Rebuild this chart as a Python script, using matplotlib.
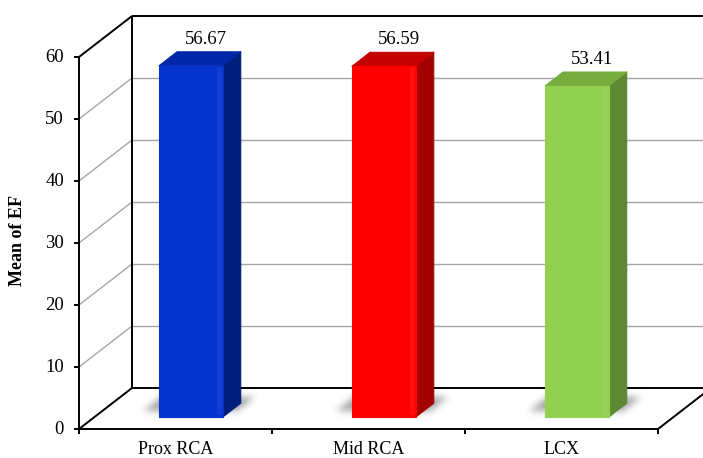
import matplotlib

matplotlib.use("Agg")

import matplotlib.pyplot as plt
import numpy as np
from matplotlib.patches import Polygon
from matplotlib.path import Path

# Dados do gráfico
categorias = ["Prox RCA", "Mid RCA", "LCX"]
medias_ef = [56.67, 56.59, 53.41]
rotulos_y = [0, 10, 20, 30, 40, 50, 60]

cores_frente = ["#0433CF", "#FF0000", "#92D050"]
cores_lado = ["#001E7C", "#A30000", "#5E8832"]
cores_topo = ["#0027A8", "#C40000", "#77AD3E"]

# Geometria da caixa 3D (em pixels da figura)
LARGURA, ALTURA = 703, 458
X0, Y0 = 79, 429
LARG_CAT = 193
PX_UNID = 6.2
PROF_DX, PROF_DY = 53, 41
Y_MAX = 60
BARRA_LARG = 0.33
BARRA_D0, BARRA_D1 = 0.29, 0.63

FONTE = "Liberation Serif"


def proj(x, v, d):
    # x em unidades de categoria, v no valor do eixo, d na profundidade (0 a 1)
    return (X0 + x * LARG_CAT + d * PROF_DX, Y0 - v * PX_UNID - d * PROF_DY)


def linha(ax, a, b, cor="black", lw=1.4, z=2):
    ax.plot([a[0], b[0]], [a[1], b[1]], color=cor, lw=lw, zorder=z,
            solid_capstyle="butt")


def _desfocar(mascara, sigma):
    raio = int(3 * sigma)
    t = np.arange(-raio, raio + 1)
    k = np.exp(-t ** 2 / (2 * sigma ** 2))
    k /= k.sum()
    saida = np.apply_along_axis(lambda r: np.convolve(r, k, mode="same"), 1, mascara)
    saida = np.apply_along_axis(lambda c: np.convolve(c, k, mode="same"), 0, saida)
    return saida


fig = plt.figure(figsize=(LARGURA / 100, ALTURA / 100), dpi=100)
ax = fig.add_axes([0, 0, 1, 1])
ax.axis("off")

n = len(categorias)

# linhas de grade na parede do fundo e na parede lateral
for v in rotulos_y[1:-1]:
    linha(ax, proj(0, v, 1), proj(n, v, 1), cor="#A6A6A6", lw=1.0, z=1)
    linha(ax, proj(0, v, 0), proj(0, v, 1), cor="#A6A6A6", lw=1.0, z=1)

# contorno da caixa
linha(ax, proj(0, Y_MAX, 1), proj(n, Y_MAX, 1))
linha(ax, proj(0, 0, 1), proj(0, Y_MAX, 1))
linha(ax, proj(0, 0, 1), proj(n, 0, 1))
linha(ax, proj(0, Y_MAX, 0), proj(0, Y_MAX, 1))
linha(ax, proj(0, 0, 0), proj(0, 0, 1))
linha(ax, proj(0, 0, 0), proj(0, Y_MAX, 0), z=5)
linha(ax, proj(0, 0, 0), proj(n, 0, 0), z=5)
linha(ax, proj(n, 0, 0), proj(n, 0, 1), z=5)

# marcas e rótulos do eixo y
for v in rotulos_y:
    px, py = proj(0, v, 0)
    linha(ax, (px - 5, py), (px, py), z=5)
    ax.text(px - 15, py, f"{v}", ha="right", va="center", fontsize=13.5,
            family=FONTE, color="black")

# marcas e rótulos das categorias
for i in range(n + 1):
    px, py = proj(i, 0, 0)
    linha(ax, (px, py), (px, py + 5), z=5)
for i, nome in enumerate(categorias):
    px, py = proj(i + 0.5, 0, 0)
    ax.text(px, py + 21, nome, ha="center", va="center", fontsize=13,
            family=FONTE, color="black")

ax.text(18, 241, "Mean of EF", rotation=90, ha="center", va="center",
        fontsize=13, fontweight="bold", family=FONTE, color="black")

# sombra suave das barras sobre o piso
gx, gy = np.meshgrid(np.arange(LARGURA) + 0.5, np.arange(ALTURA) + 0.5)
pontos = np.column_stack([gx.ravel(), gy.ravel()])
mascara = np.zeros(ALTURA * LARGURA)
for i in range(n):
    xl = i + 0.5 - BARRA_LARG / 2
    xr = i + 0.5 + BARRA_LARG / 2
    base = [proj(xl, 0, BARRA_D0), proj(xr, 0, BARRA_D0),
            proj(xr, 0, BARRA_D1), proj(xl, 0, BARRA_D1)]
    base = [(bx + (-16 if k in (0, 3) else 14), by - 6) for k, (bx, by) in enumerate(base)]
    mascara = np.maximum(mascara, Path(base).contains_points(pontos).astype(float))
sombra = _desfocar(mascara.reshape(ALTURA, LARGURA), 3.5)
rgba = np.zeros((ALTURA, LARGURA, 4))
rgba[..., :3] = 0.35
rgba[..., 3] = np.clip(sombra * 0.55, 0, 1)
ax.imshow(rgba, extent=(0, LARGURA, ALTURA, 0), zorder=3, interpolation="bilinear")
ax.set_xlim(0, LARGURA)
ax.set_ylim(ALTURA, 0)

# barras 3D
for i, v in enumerate(medias_ef):
    xl = i + 0.5 - BARRA_LARG / 2
    xr = i + 0.5 + BARRA_LARG / 2
    frente = [proj(xl, 0, BARRA_D0), proj(xr, 0, BARRA_D0),
              proj(xr, v, BARRA_D0), proj(xl, v, BARRA_D0)]
    lado = [proj(xr, 0, BARRA_D0), proj(xr, 0, BARRA_D1),
            proj(xr, v, BARRA_D1), proj(xr, v, BARRA_D0)]
    topo = [proj(xl, v, BARRA_D0), proj(xr, v, BARRA_D0),
            proj(xr, v, BARRA_D1), proj(xl, v, BARRA_D1)]
    for pol, cor in ((lado, cores_lado[i]), (topo, cores_topo[i]), (frente, cores_frente[i])):
        ax.add_patch(Polygon(pol, closed=True, facecolor=cor, edgecolor=cor,
                             lw=0.8, joinstyle="round", zorder=4))
    # leve brilho na aresta direita da face frontal
    brilho = [proj(xr - 0.03, 0.3, BARRA_D0), proj(xr - 0.005, 0.3, BARRA_D0),
              proj(xr - 0.005, v - 0.3, BARRA_D0), proj(xr - 0.03, v - 0.3, BARRA_D0)]
    ax.add_patch(Polygon(brilho, closed=True, facecolor="white", edgecolor="none",
                         alpha=0.06, zorder=4.1))

    tx, ty = proj(i + 0.5, v, BARRA_D1)
    ax.text(tx - 3, ty - 8, f"{v:.2f}", ha="center", va="baseline", fontsize=13.5,
            family=FONTE, color="black", zorder=6)

fig.savefig("out.png", dpi=100, facecolor="white")
